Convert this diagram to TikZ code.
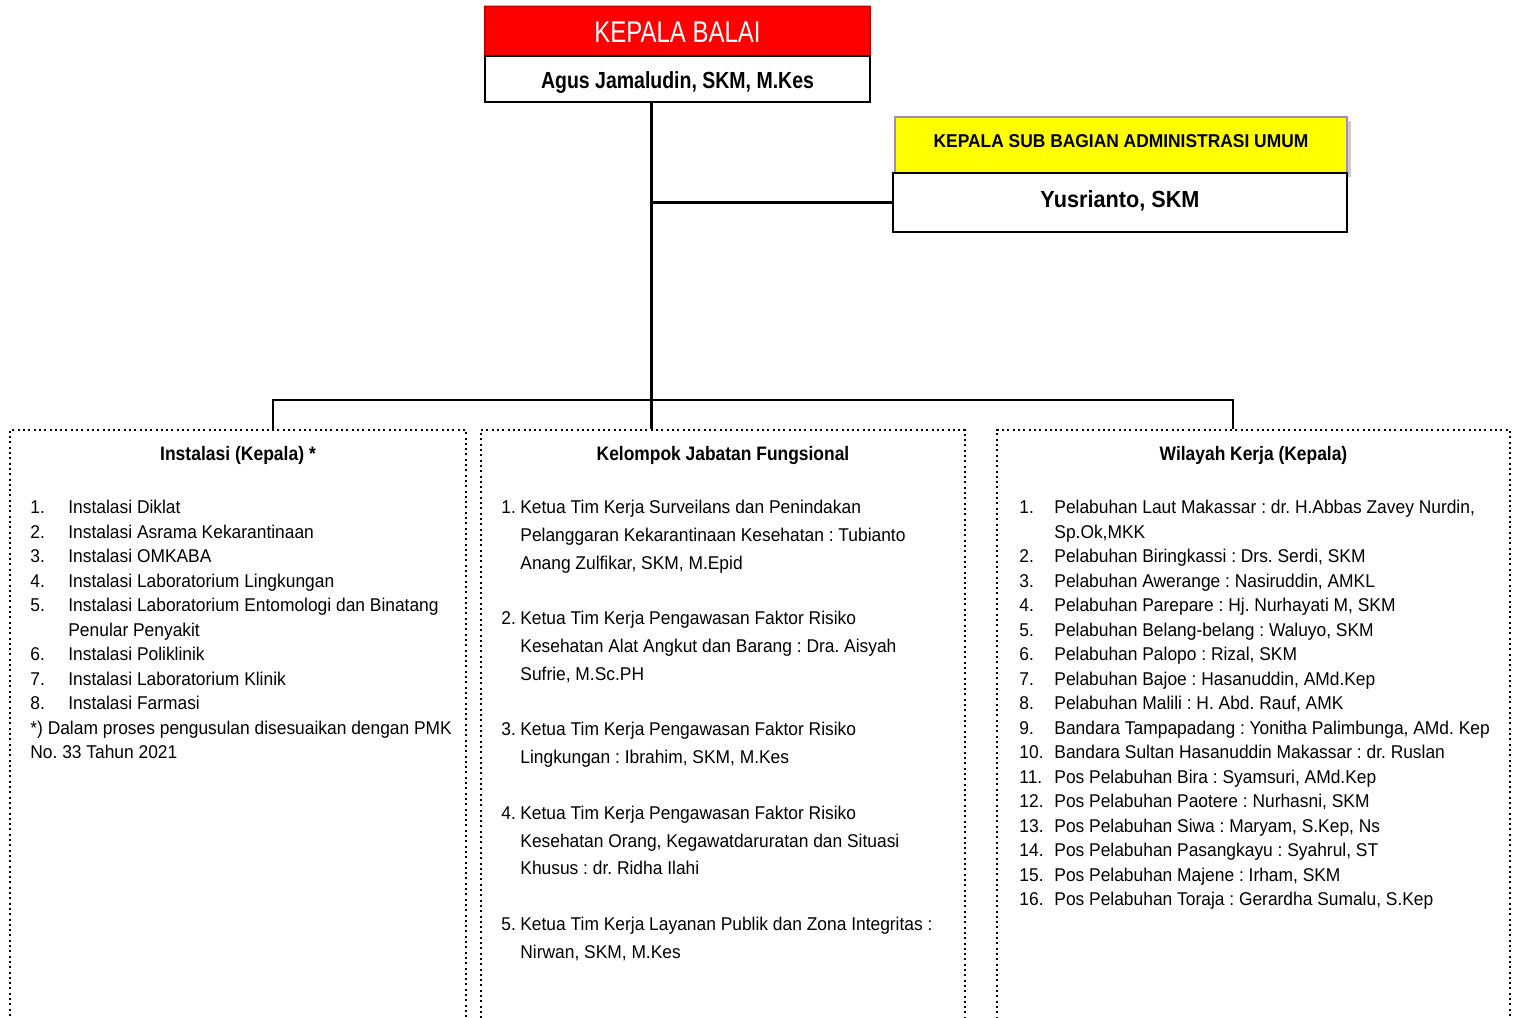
\documentclass[tikz,border=0pt]{standalone}
\usepackage{fontspec}
\usepackage{graphicx}
\setmainfont{Liberation Sans}[FakeStretch=0.94]
\frenchspacing
\newcommand{\sxx}[2]{\scalebox{#1}[1]{#2}}
\definecolor{headred}{HTML}{FE0000}
\definecolor{headedge}{HTML}{C00000}
\definecolor{subyellow}{HTML}{FFFF00}
\definecolor{subedge}{HTML}{9F8FB8}
\begin{document}
\begin{tikzpicture}[x=0.5pt,y=-0.5pt,
  conn/.style={line width=1.4pt},
  topbox/.style={draw=black,line width=1pt,fill=white,inner sep=0pt},
  dotbox/.style={draw=black,line width=1pt,dash pattern=on 1pt off 1.65pt,inner sep=0pt,minimum height=320pt},
  body/.style={inner sep=0pt,anchor=base west,align=left,font=\frenchspacing\fontsize{9.25}{12.25}\selectfont},
  ttl/.style={inner sep=0pt,anchor=base,font=\fontsize{9.75}{12}\selectfont\bfseries}]
\useasboundingbox (0,0) rectangle (1520,1017);
\clip (0,0) rectangle (1520,1017);
\fill[white] (0,0) rectangle (1520,1017);

% top: Kepala Balai
\node[fill=headred,draw=headedge,line width=0.6pt,minimum width=192.5pt,minimum height=25pt,inner sep=0pt] (head) at (677.5,31) {};
\draw[red!40!white,line width=0.6pt] (head.north west) -- (head.north east);
\node[inner sep=0pt,anchor=base,text=white,font=\fontsize{15}{18}\selectfont] (headtxt) at (677.5,42) {\sxx{0.85}{KEPALA BALAI}};
\node[topbox,minimum width=192.5pt,minimum height=23pt] (headname) at (677.5,79) {};
\node[inner sep=0pt,anchor=base,font=\fontsize{11.65}{14}\selectfont\bfseries] (headnametxt) at (677.5,88) {\sxx{0.89}{Agus Jamaludin, SKM, M.Kes}};

% sub bagian
\fill[black!20] (899,121) rectangle (1351,177);
\node[fill=subyellow,draw=subedge,line width=0.8pt,minimum width=226pt,minimum height=28pt,inner sep=0pt] (sub) at (1121,145) {};
\node[inner sep=0pt,anchor=base,font=\fontsize{9.3}{12}\selectfont\bfseries] (subtxt) at (1121,147.5) {\sxx{0.995}{KEPALA SUB BAGIAN ADMINISTRASI UMUM}};
\node[topbox,minimum width=227pt,minimum height=29.5pt] (subname) at (1120,202.5) {};
\node[inner sep=0pt,anchor=base,font=\fontsize{11.65}{14}\selectfont\bfseries] (subnametxt) at (1120,207.5) {\sxx{0.99}{Yusrianto, SKM}};

% dotted boxes
\node[dotbox,minimum width=228pt] (inst) at (238,750) {};
\node[dotbox,minimum width=242pt] (kjf) at (723,750) {};
\node[dotbox,minimum width=256.5pt] (wk) at (1253.5,750) {};

% connectors
\coordinate (trunk) at (651.5,102);
\coordinate (busM) at (651.5,400);
\coordinate (busL) at (273,400);
\coordinate (busR) at (1233,400);
\draw[conn] (trunk) -- (busM);
\draw[conn] (trunk |- subname.west) -- (subname.west);
\draw[conn] (busL |- inst.north) -- (busL) -- (busR) -- (busR |- wk.north);
\draw[conn] (busM) -- (busM |- kjf.north);

% titles
\node[ttl] (insttitle) at (238,460) {\sxx{0.955}{Instalasi (Kepala) *}};
\node[ttl] (kjftitle) at (723,460) {\sxx{0.95}{Kelompok Jabatan Fungsional}};
\node[ttl] (wktitle) at (1253.5,460) {\sxx{0.95}{Wilayah Kerja (Kepala)}};

% left list (anchor = baseline of last line)
\node[body] (instlist) at (30,758.5) {%
\makebox[19pt][l]{1.}Instalasi Diklat\\
\makebox[19pt][l]{2.}Instalasi Asrama Kekarantinaan\\
\makebox[19pt][l]{3.}Instalasi OMKABA\\
\makebox[19pt][l]{4.}Instalasi Laboratorium Lingkungan\\
\makebox[19pt][l]{5.}Instalasi Laboratorium Entomologi dan Binatang\\
\hspace*{19pt}Penular Penyakit\\
\makebox[19pt][l]{6.}Instalasi Poliklinik\\
\makebox[19pt][l]{7.}Instalasi Laboratorium Klinik\\
\makebox[19pt][l]{8.}Instalasi Farmasi\\
*) Dalam proses pengusulan disesuaikan dengan PMK\\
No. 33 Tahun 2021};

% middle list
\node[body,font=\frenchspacing\fontsize{9.25}{13.9}\selectfont] (kjflist) at (501,958.3) {%
\makebox[9.5pt][l]{1.}Ketua Tim Kerja Surveilans dan Penindakan\\
\hspace*{9.5pt}Pelanggaran Kekarantinaan Kesehatan : Tubianto\\
\hspace*{9.5pt}Anang Zulfikar, SKM, M.Epid\\[13.9pt]
\makebox[9.5pt][l]{2.}Ketua Tim Kerja Pengawasan Faktor Risiko\\
\hspace*{9.5pt}Kesehatan Alat Angkut dan Barang : Dra. Aisyah\\
\hspace*{9.5pt}Sufrie, M.Sc.PH\\[13.9pt]
\makebox[9.5pt][l]{3.}Ketua Tim Kerja Pengawasan Faktor Risiko\\
\hspace*{9.5pt}Lingkungan : Ibrahim, SKM, M.Kes\\[13.9pt]
\makebox[9.5pt][l]{4.}Ketua Tim Kerja Pengawasan Faktor Risiko\\
\hspace*{9.5pt}Kesehatan Orang, Kegawatdaruratan dan Situasi\\
\hspace*{9.5pt}Khusus : dr. Ridha Ilahi\\[13.9pt]
\makebox[9.5pt][l]{5.}Ketua Tim Kerja Layanan Publik dan Zona Integritas :\\
\hspace*{9.5pt}Nirwan, SKM, M.Kes};

% right list
\node[body] (wklist) at (1019,905.5) {%
\makebox[17.5pt][l]{1.}Pelabuhan Laut Makassar : dr. H.Abbas Zavey Nurdin,\\
\hspace*{17.5pt}Sp.Ok,MKK\\
\makebox[17.5pt][l]{2.}Pelabuhan Biringkassi : Drs. Serdi, SKM\\
\makebox[17.5pt][l]{3.}Pelabuhan Awerange : Nasiruddin, AMKL\\
\makebox[17.5pt][l]{4.}Pelabuhan Parepare : Hj. Nurhayati M, SKM\\
\makebox[17.5pt][l]{5.}Pelabuhan Belang-belang : Waluyo, SKM\\
\makebox[17.5pt][l]{6.}Pelabuhan Palopo : Rizal, SKM\\
\makebox[17.5pt][l]{7.}Pelabuhan Bajoe : Hasanuddin, AMd.Kep\\
\makebox[17.5pt][l]{8.}Pelabuhan Malili : H. Abd. Rauf, AMK\\
\makebox[17.5pt][l]{9.}Bandara Tampapadang : Yonitha Palimbunga, AMd. Kep\\
\makebox[17.5pt][l]{10.}Bandara Sultan Hasanuddin Makassar : dr. Ruslan\\
\makebox[17.5pt][l]{11.}Pos Pelabuhan Bira : Syamsuri, AMd.Kep\\
\makebox[17.5pt][l]{12.}Pos Pelabuhan Paotere : Nurhasni, SKM\\
\makebox[17.5pt][l]{13.}Pos Pelabuhan Siwa : Maryam, S.Kep, Ns\\
\makebox[17.5pt][l]{14.}Pos Pelabuhan Pasangkayu : Syahrul, ST\\
\makebox[17.5pt][l]{15.}Pos Pelabuhan Majene : Irham, SKM\\
\makebox[17.5pt][l]{16.}Pos Pelabuhan Toraja : Gerardha Sumalu, S.Kep};
\end{tikzpicture}
\end{document}
